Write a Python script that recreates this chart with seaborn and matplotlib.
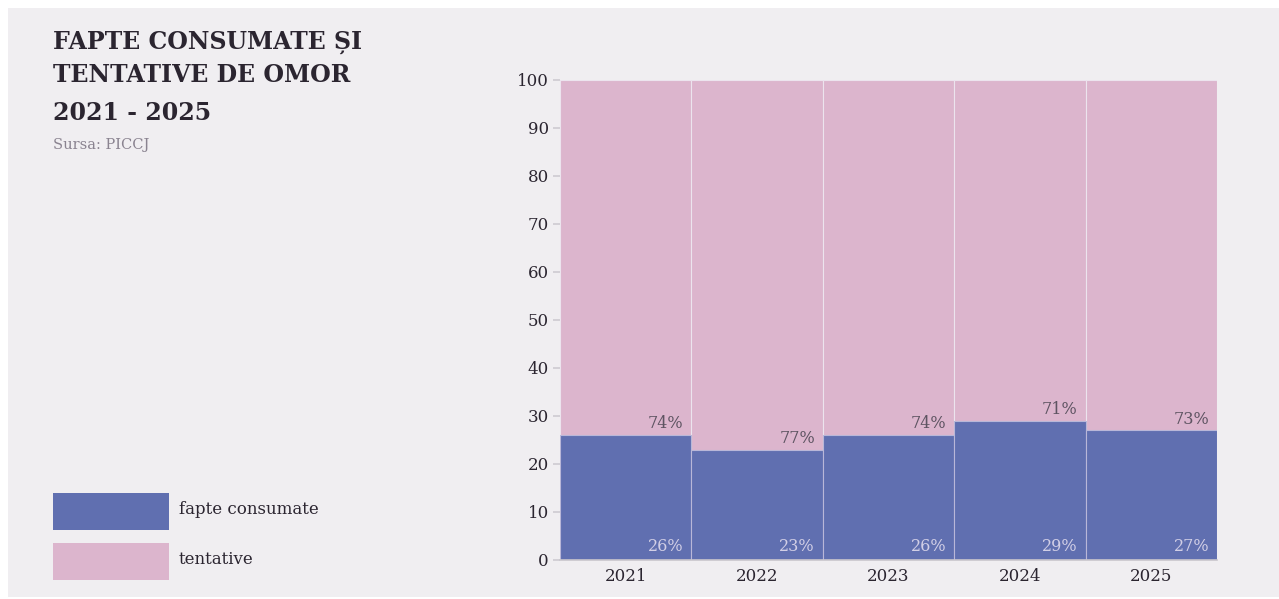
import numpy as np
import pandas as pd
import matplotlib.pyplot as plt
import seaborn as sns
from matplotlib.patches import Rectangle

# Data
years = ["2021", "2022", "2023", "2024", "2025"]
fapte_consumate = [26, 23, 26, 29, 27]
tentative = [74, 77, 74, 71, 73]

BG = "#f0eef1"
BLUE = "#606fb0"
PINK = "#dcb5cd"
DARK = "#2b2530"

sns.set_theme(style="white")
plt.rcParams['font.family'] = ['DejaVu Serif']

df = pd.DataFrame({"an": years, "fapte": fapte_consumate, "tentative": tentative})
df["total"] = df["fapte"] + df["tentative"]

fig = plt.figure(figsize=(12.79, 5.99), dpi=100, facecolor="white")
fig.patches.append(Rectangle((8 / 1279, 2 / 599), 1 - 8 / 1279, 1 - 10 / 599,
                             transform=fig.transFigure, facecolor=BG, edgecolor="none", zorder=-10))

ax = fig.add_axes([560 / 1279, 1 - 560 / 599, 657 / 1279, 480 / 599])
ax.set_facecolor(BG)

# stacked bars: total in pink behind, fapte consumate in blue in front
sns.barplot(data=df, x="an", y="total", color=PINK, width=1.0, saturation=1,
            edgecolor="#ece4ee", linewidth=0.8, ax=ax)
sns.barplot(data=df, x="an", y="fapte", color=BLUE, width=1.0, saturation=1,
            edgecolor="#b9b7d8", linewidth=0.8, ax=ax)

for i, (f, t) in enumerate(zip(fapte_consumate, tentative)):
    ax.text(i + 0.44, f + 0.6, f"{t}%", ha="right", va="bottom", fontsize=11.5, color="#5e5462")
    ax.text(i + 0.44, 1.0, f"{f}%", ha="right", va="bottom", fontsize=11.5, color="#d2cfe6")

ax.set_xlim(-0.5, 4.5)
ax.set_ylim(0, 100)
ax.set_yticks(range(0, 101, 10))
ax.set_xlabel("")
ax.set_ylabel("")
ax.tick_params(axis="y", length=5, color="#cfccd2", labelsize=12, labelcolor=DARK, pad=3, left=True)
ax.tick_params(axis="x", length=0, labelsize=12, labelcolor=DARK, pad=6)
for s in ["top", "right", "left"]:
    ax.spines[s].set_visible(False)
ax.spines["bottom"].set_color("#c9c6cc")
ax.spines["bottom"].set_linewidth(1.2)

# Title block
fig.text(53 / 1279, 1 - 30 / 599, "FAPTE CONSUMATE ȘI\nTENTATIVE DE OMOR", ha="left", va="top",
         fontsize=17, fontweight="bold", color=DARK, linespacing=1.5)
fig.text(53 / 1279, 1 - 101 / 599, "2021 - 2025", ha="left", va="top",
         fontsize=17, fontweight="bold", color=DARK)
fig.text(53 / 1279, 1 - 138 / 599, "Sursa: PICCJ", ha="left", va="top",
         fontsize=10.5, color="#8a8390")

# Legend
for k, (lab, col) in enumerate([("fapte consumate", BLUE), ("tentative", PINK)]):
    y0 = 1 - (530 + k * 50) / 599
    fig.patches.append(Rectangle((53 / 1279, y0), 116 / 1279, 37 / 599, transform=fig.transFigure,
                                 facecolor=col, edgecolor="none"))
    fig.text(179 / 1279, y0 + 20 / 599, lab, ha="left", va="center", fontsize=12, color=DARK)

fig.savefig("out.png", dpi=100, facecolor="white")
